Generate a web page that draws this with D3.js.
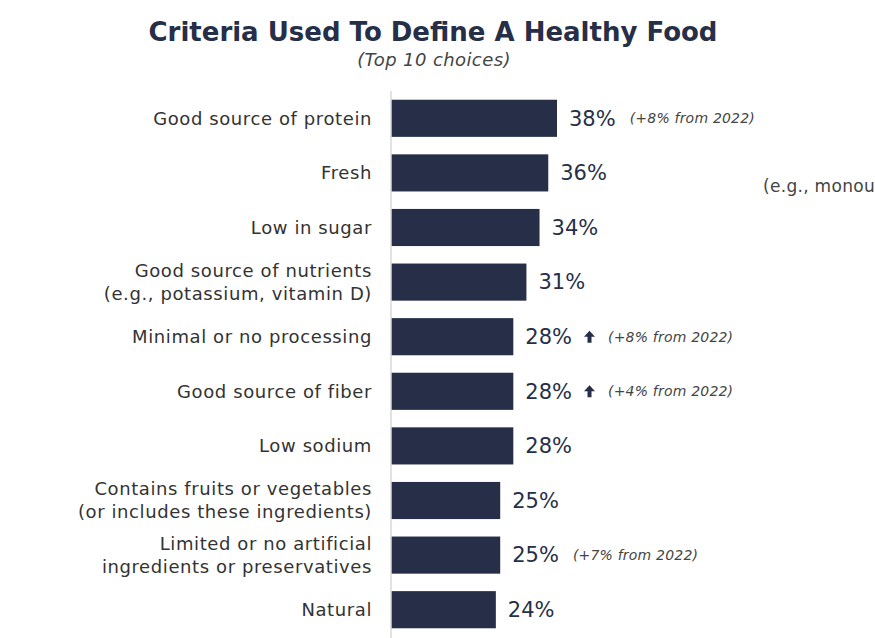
<!DOCTYPE html>
<html>
<head>
<meta charset="utf-8">
<script src="https://cdn.jsdelivr.net/npm/d3@7"></script>
<style>
  body { margin: 0; background: #fff; }
  svg { display: block; }
</style>
</head>
<body>
<div class="canvas"></div>
<script>
// data
const categories = [
  'Good source of protein',
  'Fresh',
  'Low in sugar',
  'Good source of nutrients\n(e.g., potassium, vitamin D)',
  'Minimal or no processing',
  'Good source of fiber',
  'Low sodium',
  'Contains fruits or vegetables\n(or includes these ingredients)',
  'Limited or no artificial\ningredients or preservatives',
  'Natural'
];
const values = [38, 36, 34, 31, 28, 28, 28, 25, 25, 24];
const notes = ['(+8% from 2022)', '', '', '', '(+8% from 2022)', '(+4% from 2022)', '', '', '(+7% from 2022)', ''];
const arrows = [false, false, false, false, true, true, false, false, false, false];

const width = 875, height = 638;
const font = "'DejaVu Sans', sans-serif";
const navy = '#262f47';

const svg = d3.select('.canvas')
              .append('svg')
              .attr('width', width)
              .attr('height', height)
              .style('font-family', font);

// title
svg.append('text')
   .attr('x', 433).attr('y', 41)
   .attr('text-anchor', 'middle')
   .attr('font-size', 26).attr('font-weight', 'bold')
   .attr('fill', navy)
   .text('Criteria Used To Define A Healthy Food');

svg.append('text')
   .attr('x', 434).attr('y', 66)
   .attr('text-anchor', 'middle')
   .attr('font-size', 18).attr('font-style', 'italic')
   .attr('letter-spacing', 0.4)
   .attr('fill', '#444')
   .text('(Top 10 choices)');

// text cut off at the right edge, as in the source
svg.append('text')
   .attr('x', 763).attr('y', 192)
   .attr('font-size', 17)
   .attr('letter-spacing', 0.3)
   .attr('fill', '#444')
   .text('(e.g., monou');

const x0 = 391;
const x = d3.scaleLinear()
            .domain([0, 38])
            .range([0, 166]);

const y = d3.scaleBand()
            .domain(categories)
            .range([91, 637])
            .paddingInner(0.32)
            .paddingOuter(0.16);

const graph = svg.append('g');

graph.selectAll('rect')
     .data(values)
     .enter().append('rect')
     .attr('x', x0)
     .attr('y', (d, i) => y(categories[i]))
     .attr('width', d => x(d))
     .attr('height', y.bandwidth())
     .attr('fill', navy);

// axis line
graph.append('line')
     .attr('x1', x0).attr('x2', x0)
     .attr('y1', 91).attr('y2', height)
     .attr('stroke', '#d9d9d9')
     .attr('stroke-width', 1.5);

// category labels
const labels = graph.selectAll('.cat')
     .data(categories)
     .enter().append('text')
     .attr('class', 'cat')
     .attr('text-anchor', 'end')
     .attr('font-size', 18)
     .attr('letter-spacing', 0.6)
     .attr('fill', '#333')
     .attr('transform', d => 'translate(372,' + (y(d) + y.bandwidth() / 2) + ')');

labels.each(function(d) {
  const lines = d.split('\n');
  const t = d3.select(this);
  lines.forEach((line, k) => {
    t.append('tspan')
     .attr('x', 0)
     .attr('y', (k - (lines.length - 1) / 2) * 23)
     .attr('dy', '0.35em')
     .text(line);
  });
});

// value labels, arrows and notes
values.forEach((v, i) => {
  const cy = y(categories[i]) + y.bandwidth() / 2;
  const vx = x0 + x(v) + 12;
  const vt = graph.append('text')
       .attr('x', vx).attr('y', cy)
       .attr('dy', '0.35em')
       .attr('font-size', 21)
       .attr('fill', navy)
       .text(v + '%');
  let nx = vx + vt.node().getComputedTextLength() + 14;
  if (arrows[i]) {
    const ax = nx - 2;
    graph.append('path')
         .attr('d', `M${ax},${cy} L${ax + 5.5},${cy - 6} L${ax + 11},${cy} L${ax + 7.5},${cy} L${ax + 7.5},${cy + 6} L${ax + 3.5},${cy + 6} L${ax + 3.5},${cy} Z`)
         .attr('fill', navy);
    nx = ax + 24;
  }
  if (notes[i]) {
    graph.append('text')
         .attr('x', nx).attr('y', cy)
         .attr('dy', '0.35em')
         .attr('font-size', 14)
         .attr('font-style', 'italic')
         .attr('letter-spacing', 0.2)
         .attr('fill', '#444')
         .text(notes[i]);
  }
});
</script>
</body>
</html>
